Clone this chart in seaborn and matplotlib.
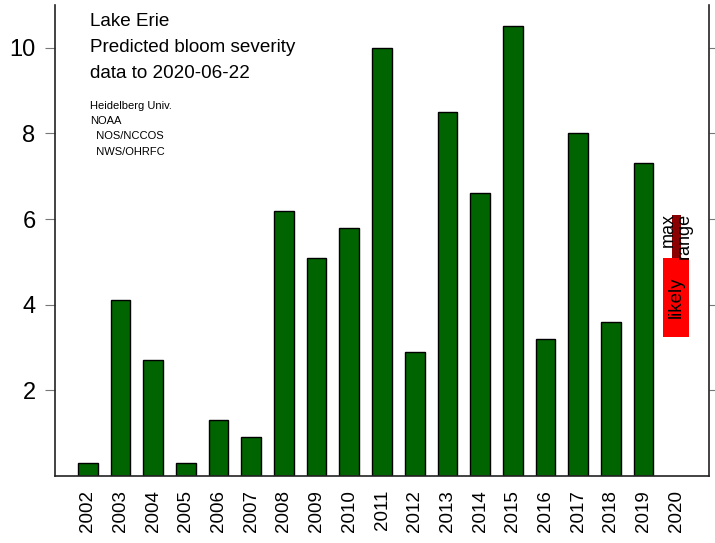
import matplotlib
matplotlib.use("Agg")
import matplotlib.pyplot as plt
import seaborn as sns
import pandas as pd

years = [str(y) for y in range(2002, 2021)]
obs_years = [str(y) for y in range(2002, 2020)]
severity = [0.3, 4.1, 2.7, 0.3, 1.3, 0.9, 6.2, 5.1, 5.8, 10.0,
            2.9, 8.5, 6.6, 10.5, 3.2, 8.0, 3.6, 7.3]
# 2020 forecast
forecast_year = "2020"
likely_low, likely_high = 3.25, 5.08
max_high = 6.1

title_lines = ["Lake Erie", "Predicted bloom severity", "data to 2020-06-22"]
credit_lines = ["Heidelberg Univ.", "NOAA", "  NOS/NCCOS", "  NWS/OHRFC"]

sns.set_style("white")
plt.rcParams['font.family'] = ['Liberation Sans', 'DejaVu Sans']
plt.rcParams['text.color'] = 'black'

df = pd.DataFrame({"year": obs_years, "severity": severity})

fig = plt.figure(figsize=(7.15, 5.43), dpi=100)
ax = fig.add_axes([55 / 715, 67 / 543, 654 / 715, 471 / 543])

sns.barplot(data=df, x="year", y="severity", order=years, color="#006400",
            saturation=1, edgecolor="black", linewidth=1, width=0.6, ax=ax)

pos = years.index(forecast_year)
ax.bar(pos, likely_high - likely_low, bottom=likely_low, width=0.8,
       color="#FF0000", linewidth=0)
ax.bar(pos, max_high - likely_high, bottom=likely_high, width=0.28,
       color="#8B0000", linewidth=0)
ax.text(pos, (likely_high + max_high) / 2 + 0.02, "max\nrange", rotation=90,
        ha="center", va="center", fontsize=13, linespacing=0.95,
        multialignment="right")
ax.text(pos, (likely_low + likely_high) / 2, "likely", rotation=90,
        ha="center", va="center", fontsize=13.5)

ax.set_xlim(-1, len(years))
ax.set_ylim(0, 11)
ax.set_yticks([2, 4, 6, 8, 10])
ax.set_xlabel("")
ax.set_ylabel("")
ax.tick_params(axis="x", labelrotation=90, labelsize=13.5, length=7,
               color="#333333", labelcolor="black", pad=3)
ax.tick_params(axis="y", labelsize=17, length=7, color="#777777",
               labelcolor="black", pad=7, right=True, left=True,
               direction="out")
for s in ["left", "bottom", "right"]:
    ax.spines[s].set_visible(True)
    ax.spines[s].set_color("#222222")
    ax.spines[s].set_linewidth(1.2)
ax.spines["top"].set_visible(False)

for i, line in enumerate(title_lines):
    fig.text(90 / 715, 1 - (22 + 25.5 * i) / 543, line, fontsize=13.6,
             va="center", ha="left")
for i, line in enumerate(credit_lines):
    fig.text(90 / 715, 1 - (106 + 15.2 * i) / 543, line, fontsize=8,
             va="center", ha="left")

fig.savefig("out.png", dpi=100)
